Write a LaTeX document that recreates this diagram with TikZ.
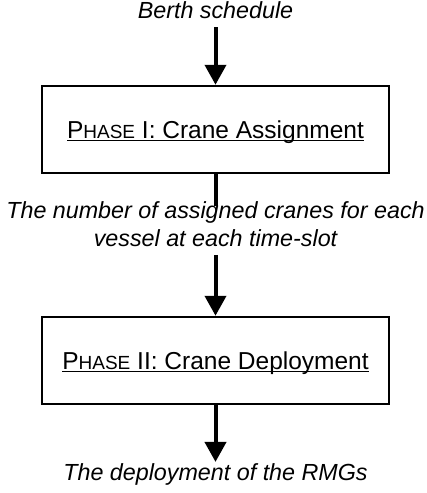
\documentclass[tikz,border=0pt]{standalone}
\usepackage{fontspec}
\setmainfont{Liberation Sans}
\usetikzlibrary{arrows.meta}
\newsavebox{\phasesave}
\newcommand{\phasename}[2]{\sbox{\phasesave}{P{\fontsize{19}{20}\selectfont HASE} #1: #2}%
  \rlap{\rule[-2.8pt]{\wd\phasesave}{1.3pt}}\usebox{\phasesave}}
\tikzset{
  flowtext/.style = {font=\fontsize{23.3}{28}\selectfont\itshape, inner sep=0pt},
  phasebox/.style = {draw, line width=2.5pt, minimum width=\boxwidth, minimum height=\boxheight,
                     font=\fontsize{24.5}{28}\selectfont, text height=17.5pt, text depth=0pt},
  flowarrow/.style = {line width=4pt, -{Triangle[width=21pt,length=20pt]}}
}
\begin{document}
\begin{tikzpicture}[x=1pt,y=1pt]
\pgfmathsetlengthmacro\boxwidth{347};
\pgfmathsetlengthmacro\boxheight{87};
\useasboundingbox (0,0) rectangle (427,-493);
\node[flowtext, anchor=base] (berth) at (215.5,-18) {Berth schedule};
\node[phasebox] (phase1) at (215.5,-129.5) {\phasename{I}{Crane Assignment}};
\node[flowtext, align=center] (cranes) at (215.5,-224) {The number of assigned cranes for each\\vessel at each time-slot};
\node[phasebox] (phase2) at (215.5,-360.5) {\phasename{II}{Crane Deployment}};
\node[flowtext, anchor=base] (rmgs) at (215.5,-480) {The deployment of the RMGs};
\draw[flowarrow, shorten <=9pt] (berth) -- (phase1);
\draw[line width=4pt, shorten >=-5pt] (phase1) -- (cranes);
\draw[flowarrow, shorten <=8pt] (cranes) -- (phase2);
\draw[flowarrow, shorten >=1pt] (phase2) -- (rmgs);
\end{tikzpicture}
\end{document}
